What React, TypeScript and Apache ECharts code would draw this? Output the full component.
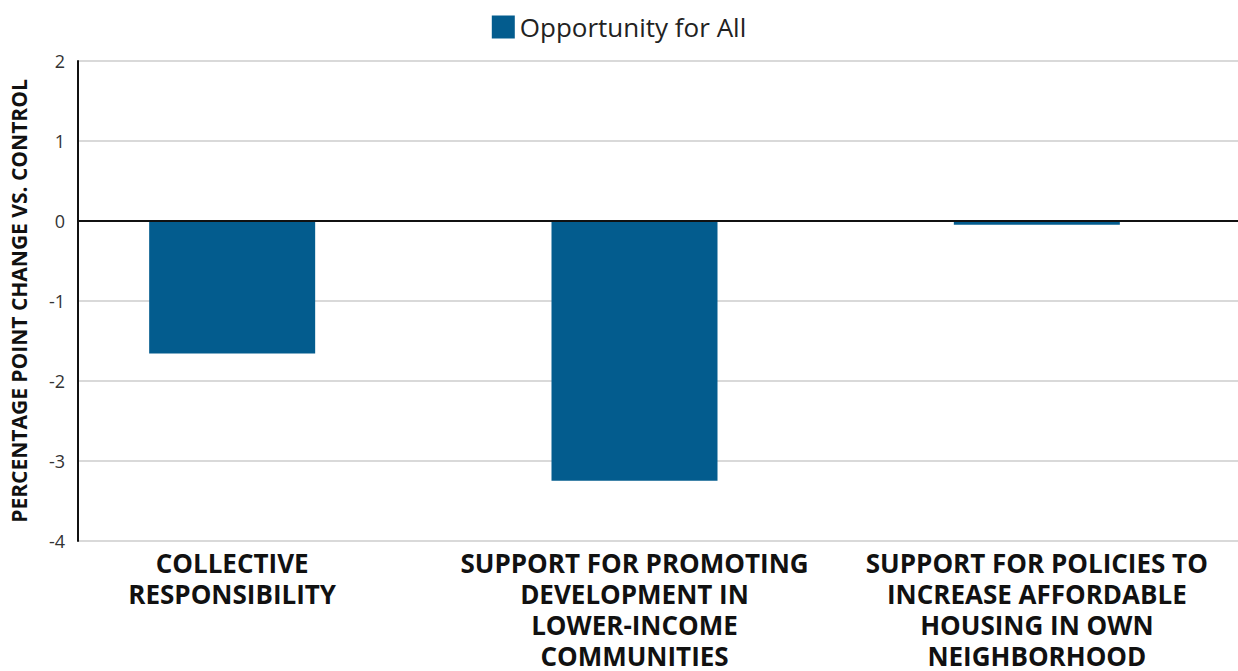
import React, { useEffect, useRef } from "react";
import * as echarts from "echarts";

const categories: string[] = [
  "COLLECTIVE\nRESPONSIBILITY",
  "SUPPORT FOR PROMOTING\nDEVELOPMENT IN\nLOWER-INCOME\nCOMMUNITIES",
  "SUPPORT FOR POLICIES TO\nINCREASE AFFORDABLE\nHOUSING IN OWN\nNEIGHBORHOOD",
];
const seriesName = "Opportunity for All";
const values: number[] = [-1.68, -3.28, -0.06];
const yMin = -4;
const yMax = 2;
const yInterval = 1;
const yAxisTitle = "PERCENTAGE POINT CHANGE VS. CONTROL";

const FONT = "'Open Sans', 'Noto Sans', sans-serif";

export default function App() {
  const ref = useRef<HTMLDivElement>(null);
  useEffect(() => {
    if (!ref.current) return;
    const chart = echarts.init(ref.current, undefined, { renderer: "svg" });
    chart.setOption({
      animation: false,
      textStyle: { fontFamily: FONT },
      legend: {
        top: 9,
        left: "center",
        itemWidth: 23,
        itemHeight: 23,
        icon: "rect",
        textStyle: { fontSize: 26, lineHeight: 23, color: "#222", fontFamily: FONT },
        data: [seriesName],
      },
      grid: [
        { left: 73, right: 0, top: 61, height: 480, containLabel: false },
        { left: 31, width: 1222, top: 61, height: 480, containLabel: false },
      ],
      xAxis: [
        {
          gridIndex: 0,
          type: "category",
          data: categories,
          z: 5,
          axisLine: { show: true, onZero: true, lineStyle: { color: "#111", width: 2 } },
          axisTick: { show: false },
          axisLabel: { show: false },
          splitLine: { show: false },
        },
        {
          gridIndex: 1,
          type: "category",
          data: categories,
          axisLine: { show: false, onZero: false },
          axisTick: { show: false },
          axisLabel: {
            interval: 0,
            margin: 9,
            fontSize: 26,
            lineHeight: 31,
            fontWeight: "bold",
            color: "#111",
            fontFamily: FONT,
          },
        },
      ],
      yAxis: [
        {
          gridIndex: 0,
          type: "value",
          min: yMin,
          max: yMax,
          interval: yInterval,
          name: yAxisTitle,
          nameLocation: "middle",
          nameGap: 49,
          nameTextStyle: { fontSize: 21, fontWeight: "bold", color: "#111", fontFamily: FONT },
          axisLine: { show: true, lineStyle: { color: "#111", width: 2 } },
          axisTick: { show: false },
          axisLabel: { fontSize: 18, color: "#333", margin: 13, fontFamily: FONT },
          splitLine: { show: true, lineStyle: { color: "#d9d9d9", width: 2 } },
        },
        {
          gridIndex: 1,
          type: "value",
          min: yMin,
          max: yMax,
          interval: yInterval,
          show: false,
          splitLine: { show: false },
        },
      ],
      series: [
        {
          name: seriesName,
          type: "bar",
          xAxisIndex: 1,
          yAxisIndex: 1,
          data: values,
          barWidth: 166,
          itemStyle: { color: "#035c8e" },
        },
      ],
    });
    return () => chart.dispose();
  }, []);
  return (
    <div
      ref={ref}
      style={{ position: "absolute", left: 0, top: 0, width: 1238, height: 671 }}
    />
  );
}
